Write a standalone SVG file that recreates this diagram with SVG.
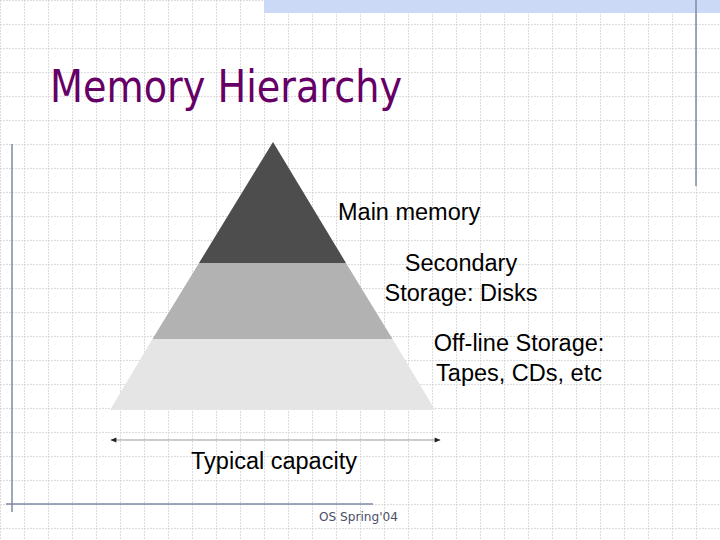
<svg xmlns="http://www.w3.org/2000/svg" width="720" height="540" viewBox="0 0 720 540">
<defs>
<pattern id="grid" width="24" height="24" patternUnits="userSpaceOnUse">
<line x1="0" y1="0.5" x2="24" y2="0.5" stroke="#dcdcdc" stroke-width="1" stroke-dasharray="2,1"/>
<line x1="0.5" y1="0" x2="0.5" y2="24" stroke="#dcdcdc" stroke-width="1" stroke-dasharray="2,1"/>
</pattern>
<marker id="ah" viewBox="0 0 10 10" refX="9" refY="5" markerWidth="8" markerHeight="6" orient="auto-start-reverse" markerUnits="userSpaceOnUse">
<path d="M0,1 L10,5 L0,9 Z" fill="#222"/>
</marker>
<style>
.lbl{font-family:"Liberation Sans",Arial,sans-serif;font-size:23.5px;fill:#000}
.frame{stroke:#7f8aa6;stroke-width:1.5;fill:none}
</style>
</defs>
<rect width="720" height="540" fill="#fff"/>
<rect width="720" height="540" fill="url(#grid)"/>
<rect x="264" y="0" width="456" height="13" fill="#cbd9f7"/>
<line class="frame" x1="696" y1="0" x2="696" y2="186"/>
<line class="frame" x1="12" y1="144" x2="12" y2="512"/>
<line class="frame" x1="6" y1="504" x2="373" y2="504"/>
<text x="50" y="102" font-family="'DejaVu Sans',Tahoma,sans-serif" font-size="44" fill="#660066" textLength="352" lengthAdjust="spacingAndGlyphs">Memory Hierarchy</text>
<g id="pyramid">
<g id="level-offline"><polygon points="110,410 435,410 392.5,339 152.5,339" fill="#e5e5e5"/></g>
<g id="level-secondary"><polygon points="152.5,339 392.5,339 346,263 199,263" fill="#b2b2b2"/></g>
<g id="level-main"><polygon points="199,263 346,263 273,142" fill="#4d4d4d"/></g>
</g>
<g id="label-main"><text class="lbl" x="338" y="220">Main memory</text></g>
<g id="label-secondary"><text class="lbl" x="461" y="271" text-anchor="middle">Secondary</text><text class="lbl" x="461" y="301" text-anchor="middle">Storage: Disks</text></g>
<g id="label-offline"><text class="lbl" x="519" y="351" text-anchor="middle">Off-line Storage:</text><text class="lbl" x="519" y="381" text-anchor="middle">Tapes, CDs, etc</text></g>
<g id="connectors">
<line x1="111" y1="440" x2="440" y2="440" stroke="#999" stroke-width="1.2" marker-start="url(#ah)" marker-end="url(#ah)"/>
</g>
<g id="label-capacity"><text class="lbl" x="274" y="469" text-anchor="middle">Typical capacity</text></g>
<text x="319" y="521" font-family="'DejaVu Sans',Tahoma,sans-serif" font-size="13" fill="#4a5068" textLength="79" lengthAdjust="spacingAndGlyphs">OS Spring'04</text>
</svg>
